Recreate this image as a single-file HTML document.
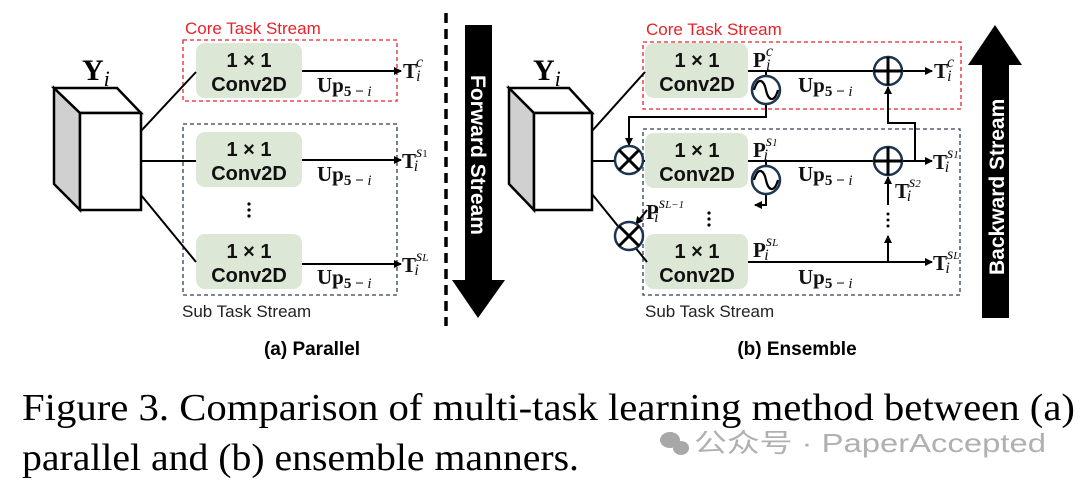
<!DOCTYPE html>
<html><head><meta charset="utf-8"><style>
html,body{margin:0;padding:0;background:#fff;width:1080px;height:486px;overflow:hidden}
svg{display:block}
.conv{fill:#dde7d6}
.ct{font-family:"Liberation Sans",sans-serif;font-weight:bold;font-size:20px;fill:#111;text-anchor:middle}
.lab{font-family:"Liberation Serif",serif;font-weight:bold;font-size:21px;fill:#111}
.sub{font-family:"Liberation Serif",serif;font-size:16px;font-style:italic;font-weight:normal;fill:#111}
.ln{stroke:#000;stroke-width:2;fill:none}
.op{stroke:#1e3550;stroke-width:2.5;fill:#fff}
.x{stroke:#000;stroke-width:3}
.st{font-family:"Liberation Sans",sans-serif;font-size:17px}
</style></head><body>
<svg width="1080" height="486" viewBox="0 0 1080 486" xmlns="http://www.w3.org/2000/svg">
<defs>
<marker id="ah" markerWidth="8" markerHeight="8" refX="7" refY="4" orient="auto" markerUnits="userSpaceOnUse"><path d="M0,0 L8,4 L0,8 z" fill="#000"/></marker>
</defs>

<!-- ===== Panel (a) ===== -->
<text x="82" y="80" font-family="Liberation Serif,serif" font-weight="bold" font-size="30">Y<tspan font-style="italic" font-weight="normal" font-size="22" dy="6">i</tspan></text>
<polygon points="54,88 80,113 80,210 54,184" fill="#d0d0d0" stroke="#000" stroke-width="2.5"/>
<polygon points="54,88 117,88 141,113 80,113" fill="#fff" stroke="#000" stroke-width="2.5"/>
<rect x="80" y="113" width="61" height="97" fill="#fff" stroke="#000" stroke-width="2.5"/>

<rect x="183" y="40" width="214" height="61" fill="none" stroke="#e8222a" stroke-width="1.3" stroke-dasharray="4,3"/>
<rect x="183" y="124" width="214" height="171" fill="none" stroke="#2f3e55" stroke-width="1.3" stroke-dasharray="4,3"/>
<text x="185" y="34" class="st" fill="#e8222a">Core Task Stream</text>
<text x="182" y="317" class="st" fill="#222">Sub Task Stream</text>

<rect x="196" y="43" width="106" height="55" rx="9" class="conv"/>
<rect x="196" y="132" width="106" height="55" rx="9" class="conv"/>
<rect x="196" y="234" width="106" height="55" rx="9" class="conv"/>
<text x="249" y="67" class="ct">1 × 1</text><text x="249" y="91" class="ct">Conv2D</text>
<text x="249" y="156" class="ct">1 × 1</text><text x="249" y="180" class="ct">Conv2D</text>
<text x="249" y="258" class="ct">1 × 1</text><text x="249" y="282" class="ct">Conv2D</text>
<line x1="141" y1="131" x2="196" y2="72" class="ln" stroke-width="1.5"/>
<line x1="141" y1="161" x2="196" y2="161" class="ln" stroke-width="1.5"/>
<line x1="141" y1="195" x2="196" y2="262" class="ln" stroke-width="1.5"/>
<line x1="302" y1="71" x2="401" y2="71" class="ln" stroke-width="1.5" marker-end="url(#ah)"/>
<line x1="302" y1="160" x2="401" y2="160" class="ln" stroke-width="1.5" marker-end="url(#ah)"/>
<line x1="302" y1="264" x2="401" y2="264" class="ln" stroke-width="1.5" marker-end="url(#ah)"/>
<text x="317" y="92" class="lab">Up<tspan font-size="15" font-weight="bold" dy="4">5 − <tspan font-style="italic" font-weight="normal">i</tspan></tspan></text>
<text x="317" y="181" class="lab">Up<tspan font-size="15" font-weight="bold" dy="4">5 − <tspan font-style="italic" font-weight="normal">i</tspan></tspan></text>
<text x="317" y="284" class="lab">Up<tspan font-size="15" font-weight="bold" dy="4">5 − <tspan font-style="italic" font-weight="normal">i</tspan></tspan></text>
<text x="403" y="78" class="lab" fill="#e8222a">T<tspan class="sub" fill="#e8222a" dx="-1" dy="-11">c</tspan><tspan class="sub" fill="#e8222a" dx="-7" dy="14">i</tspan></text>
<text x="402" y="168" class="lab">T<tspan class="sub" dx="0" dy="-11">s<tspan font-size="11" font-style="normal">1</tspan></tspan><tspan class="sub" dx="-14" dy="14">i</tspan></text>
<text x="402" y="272" class="lab">T<tspan class="sub" dx="0" dy="-11">s<tspan font-size="11">L</tspan></tspan><tspan class="sub" dx="-14" dy="14">i</tspan></text>
<g fill="#000"><circle cx="249" cy="204" r="1.6"/><circle cx="249" cy="210" r="1.6"/><circle cx="249" cy="216" r="1.6"/></g>

<line x1="446" y1="13" x2="446" y2="326" stroke="#000" stroke-width="3.5" stroke-dasharray="10,6"/>
<polygon points="465,25 492,25 492,280 505,280 478,318 452,280 465,280" fill="#000"/>
<text transform="translate(471,75) rotate(90)" font-family="Liberation Sans,sans-serif" font-weight="bold" font-size="21" fill="#fff">Forward Stream</text>

<text x="312" y="355" text-anchor="middle" font-family="Liberation Sans,sans-serif" font-weight="bold" font-size="19">(a) Parallel</text>

<!-- ===== Panel (b) ===== -->
<text x="533" y="80" font-family="Liberation Serif,serif" font-weight="bold" font-size="30">Y<tspan font-style="italic" font-weight="normal" font-size="22" dy="6">i</tspan></text>
<polygon points="509,88 534,113 534,210 509,184" fill="#d0d0d0" stroke="#000" stroke-width="2.5"/>
<polygon points="509,88 569,88 592,113 534,113" fill="#fff" stroke="#000" stroke-width="2.5"/>
<rect x="534" y="113" width="58" height="97" fill="#fff" stroke="#000" stroke-width="2.5"/>

<rect x="643" y="42" width="318" height="67" fill="none" stroke="#e8222a" stroke-width="1.3" stroke-dasharray="4,3"/>
<rect x="643" y="129" width="317" height="166" fill="none" stroke="#2f3e55" stroke-width="1.3" stroke-dasharray="4,3"/>
<text x="646" y="35" class="st" fill="#e8222a">Core Task Stream</text>
<text x="645" y="317" class="st" fill="#222">Sub Task Stream</text>

<rect x="645" y="43" width="103" height="55" rx="9" class="conv"/>
<rect x="645" y="133" width="103" height="55" rx="9" class="conv"/>
<rect x="645" y="234" width="103" height="55" rx="9" class="conv"/>
<text x="697" y="67" class="ct">1 × 1</text><text x="697" y="91" class="ct">Conv2D</text>
<text x="697" y="157" class="ct">1 × 1</text><text x="697" y="181" class="ct">Conv2D</text>
<text x="697" y="258" class="ct">1 × 1</text><text x="697" y="282" class="ct">Conv2D</text>
<g fill="#000"><circle cx="709" cy="213" r="1.6"/><circle cx="709" cy="219" r="1.6"/><circle cx="709" cy="225" r="1.6"/></g>

<line x1="592" y1="131" x2="645" y2="72" class="ln" stroke-width="1.6"/>
<line x1="592" y1="161" x2="645" y2="161" class="ln" stroke-width="1.6"/>
<line x1="592" y1="194" x2="647" y2="262" class="ln" stroke-width="1.6"/>
<polyline points="766,104 766,117 629,117 629,145" class="ln" marker-end="url(#ah)"/>
<line x1="647" y1="210" x2="636" y2="224" class="ln" marker-end="url(#ah)"/>
<line x1="748" y1="71" x2="932" y2="71" class="ln" marker-end="url(#ah)"/>
<line x1="748" y1="161" x2="932" y2="161" class="ln" marker-end="url(#ah)"/>
<line x1="748" y1="262" x2="932" y2="262" class="ln" marker-end="url(#ah)"/>
<line x1="766" y1="71" x2="766" y2="77" class="ln"/>
<line x1="766" y1="161" x2="766" y2="167" class="ln"/>
<polyline points="915,161 915,123 888,123 888,87" class="ln" marker-end="url(#ah)"/>
<polyline points="766,194 766,205 755,205" class="ln" marker-end="url(#ah)"/>
<line x1="888" y1="262" x2="888" y2="236" class="ln" marker-end="url(#ah)"/>
<line x1="888" y1="205" x2="888" y2="177" class="ln" marker-end="url(#ah)"/>
<g fill="#000"><circle cx="888" cy="214" r="1.5"/><circle cx="888" cy="220" r="1.5"/><circle cx="888" cy="226" r="1.5"/></g>

<circle cx="888" cy="71" r="14" class="op"/><line x1="874" y1="71" x2="902" y2="71" class="x"/><line x1="888" y1="57" x2="888" y2="85" class="x"/>
<circle cx="888" cy="161" r="14" class="op"/><line x1="874" y1="161" x2="902" y2="161" class="x"/><line x1="888" y1="147" x2="888" y2="175" class="x"/>
<circle cx="766" cy="90" r="14" class="op"/><path d="M754,90 C758,76 764,80 766,90 C768,100 774,104 778,90" stroke="#000" stroke-width="2.2" fill="none"/>
<circle cx="766" cy="180" r="14" class="op"/><path d="M754,180 C758,166 764,170 766,180 C768,190 774,194 778,180" stroke="#000" stroke-width="2.2" fill="none"/>
<circle cx="629" cy="160" r="14" class="op"/><line x1="619" y1="150" x2="639" y2="170" class="x"/><line x1="639" y1="150" x2="619" y2="170" class="x"/>
<circle cx="629" cy="236" r="14" class="op"/><line x1="619" y1="226" x2="639" y2="246" class="x"/><line x1="639" y1="226" x2="619" y2="246" class="x"/>

<text x="753" y="67" class="lab" fill="#e8222a">P<tspan class="sub" fill="#e8222a" dx="0" dy="-11">c</tspan><tspan class="sub" fill="#e8222a" dx="-7" dy="14">i</tspan></text>
<text x="753" y="157" class="lab">P<tspan class="sub" dy="-11">s<tspan font-size="11">1</tspan></tspan><tspan class="sub" dx="-14" dy="14">i</tspan></text>
<text x="753" y="257" class="lab">P<tspan class="sub" dy="-11">s<tspan font-size="11">L</tspan></tspan><tspan class="sub" dx="-14" dy="14">i</tspan></text>
<text x="646" y="219" class="lab">P<tspan class="sub" dy="-11">s<tspan font-size="11">L−1</tspan></tspan><tspan class="sub" dx="-30" dy="14">i</tspan></text>
<text x="895" y="198" class="lab">T<tspan class="sub" dy="-11">s<tspan font-size="11">2</tspan></tspan><tspan class="sub" dx="-14" dy="14">i</tspan></text>
<text x="798" y="92" class="lab">Up<tspan font-size="15" dy="4">5 − <tspan font-style="italic" font-weight="normal">i</tspan></tspan></text>
<text x="798" y="181" class="lab">Up<tspan font-size="15" dy="4">5 − <tspan font-style="italic" font-weight="normal">i</tspan></tspan></text>
<text x="798" y="284" class="lab">Up<tspan font-size="15" dy="4">5 − <tspan font-style="italic" font-weight="normal">i</tspan></tspan></text>
<text x="934" y="78" class="lab" fill="#e8222a">T<tspan class="sub" fill="#e8222a" dx="-1" dy="-11">c</tspan><tspan class="sub" fill="#e8222a" dx="-7" dy="14">i</tspan></text>
<text x="933" y="169" class="lab">T<tspan class="sub" dy="-11">s<tspan font-size="11">1</tspan></tspan><tspan class="sub" dx="-14" dy="14">i</tspan></text>
<text x="933" y="270" class="lab">T<tspan class="sub" dy="-11">s<tspan font-size="11">L</tspan></tspan><tspan class="sub" dx="-14" dy="14">i</tspan></text>

<polygon points="982,318 1009,318 1009,65 1022,65 995,25 968,65 982,65" fill="#000"/>
<text transform="translate(1004,275) rotate(-90)" font-family="Liberation Sans,sans-serif" font-weight="bold" font-size="21" fill="#fff">Backward Stream</text>

<text x="797" y="355" text-anchor="middle" font-family="Liberation Sans,sans-serif" font-weight="bold" font-size="19">(b) Ensemble</text>

<text x="22" y="420" font-family="Liberation Serif,serif" font-size="38" textLength="1053" lengthAdjust="spacingAndGlyphs">Figure 3. Comparison of multi-task learning method between (a)</text>
<text x="22" y="470" font-family="Liberation Serif,serif" font-size="38" textLength="557" lengthAdjust="spacingAndGlyphs">parallel and (b) ensemble manners.</text>
<g fill="#a8a8a8">
<ellipse cx="670" cy="440" rx="10" ry="8"/><ellipse cx="681" cy="448" rx="8" ry="7"/>
</g>
<text x="694" y="452" font-family="Liberation Sans,'Noto Sans CJK SC',sans-serif" font-size="26" fill="#b0b0b0" textLength="352" lengthAdjust="spacingAndGlyphs">公众号 · PaperAccepted</text>
</svg>
</body></html>
